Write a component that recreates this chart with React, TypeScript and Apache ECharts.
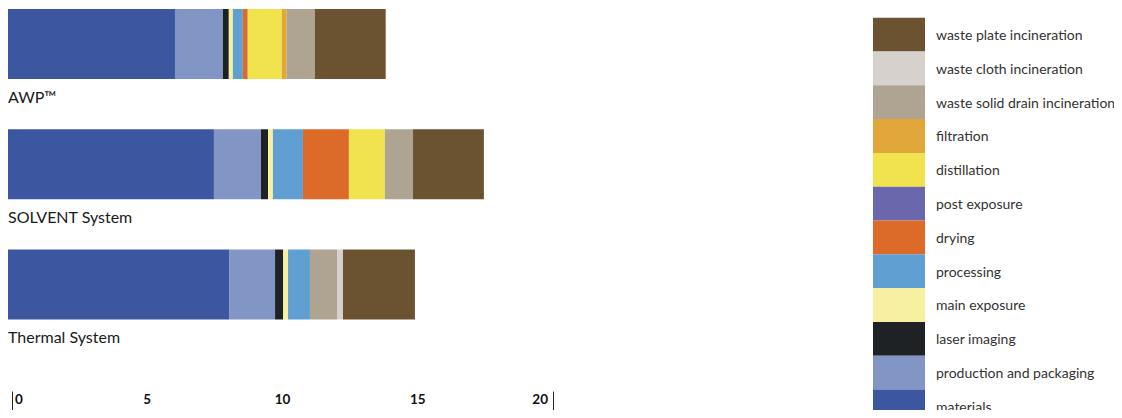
import React, { useEffect, useRef } from "react";
import * as echarts from "echarts";

const categories = ["AWP™", "SOLVENT System", "Thermal System"];

const seriesNames = [
  "materials",
  "production and packaging",
  "laser imaging",
  "main exposure",
  "processing",
  "drying",
  "post exposure",
  "distillation",
  "filtration",
  "waste solid drain incineration",
  "waste cloth incineration",
  "waste plate incineration",
];

const materials = [6.21, 7.65, 8.21];
const productionAndPackaging = [1.77, 1.74, 1.7];
const laserImaging = [0.22, 0.26, 0.3];
const mainExposure = [0.15, 0.18, 0.18];
const processing = [0.37, 1.11, 0.81];
const drying = [0.18, 1.7, 0];
const postExposure = [0, 0, 0];
const distillation = [1.26, 1.33, 0];
const filtration = [0.18, 0, 0];
const wasteSolidDrain = [1.04, 1.04, 1.0];
const wasteCloth = [0, 0, 0.22];
const wastePlate = [2.62, 2.62, 2.66];

const seriesValues = [
  materials,
  productionAndPackaging,
  laserImaging,
  mainExposure,
  processing,
  drying,
  postExposure,
  distillation,
  filtration,
  wasteSolidDrain,
  wasteCloth,
  wastePlate,
];

const colors = [
  "#3d56a0",
  "#8296c6",
  "#1f2224",
  "#f6f0a0",
  "#5f9fd2",
  "#dc6a29",
  "#6b67ad",
  "#f0e34e",
  "#e1a73a",
  "#afa491",
  "#d6d1cd",
  "#6b5331",
];

const axisTicks = [0, 5, 10, 15, 20];

export default function App() {
  const ref = useRef<HTMLDivElement>(null);
  useEffect(() => {
    if (!ref.current) return;
    const chart = echarts.init(ref.current, null, { renderer: "svg" });
    const option: any = {
      animation: false,
      grid: [
        { left: 7, width: 541, top: 44, height: 240.5 },
        { left: 12, width: 541, top: 392, height: 26 },
      ],
      legend: {
        orient: "vertical",
        left: 873,
        top: 17.7,
        height: 500,
        padding: 0,
        itemWidth: 52,
        itemHeight: 33.8,
        itemGap: 0,
        icon: "rect",
        selectedMode: false,
        data: seriesNames.slice().reverse(),
        textStyle: {
          fontFamily: "Lato",
          fontSize: 14,
          color: "#333",
          padding: [0, 0, 0, 6],
        },
      },
      xAxis: [
        { gridIndex: 0, type: "value", min: 0, max: 20, show: false },
        {
          gridIndex: 1,
          type: "value",
          min: axisTicks[0],
          max: axisTicks[axisTicks.length - 1],
          interval: 5,
          axisLine: { show: false },
          splitLine: { show: false },
          axisTick: { show: true, inside: true, length: 6, lineStyle: { color: "#222", width: 1 } },
          axisLabel: {
            inside: true,
            margin: 12,
            fontFamily: "Lato",
            fontWeight: "bold",
            fontSize: 13.5,
            color: "#111",
            formatter: (v: number) =>
              v === axisTicks[0] ? `{l|${v}}` : v === axisTicks[axisTicks.length - 1] ? `{r|${v}}` : String(v),
            rich: {
              l: { padding: [0, 0, 0, 3], fontFamily: "Lato", fontWeight: "bold", fontSize: 13.5, color: "#111" },
              r: { padding: [0, 5, 0, 0], fontFamily: "Lato", fontWeight: "bold", fontSize: 13.5, color: "#111" },
            },
            alignMinLabel: "left",
            alignMaxLabel: "right",
          },
        },
      ],
      yAxis: [
        {
          gridIndex: 0,
          type: "category",
          data: categories,
          inverse: true,
          boundaryGap: false,
          axisLine: { show: false },
          axisTick: { show: false },
          splitLine: { show: false },
          axisLabel: {
            inside: true,
            margin: 1,
            verticalAlign: "top",
            padding: [44, 0, 0, 0],
            fontFamily: "Lato",
            fontSize: 16,
            color: "#1a1a1a",
          },
        },
        {
          gridIndex: 1,
          type: "value",
          min: 0,
          max: 1,
          position: "left",
          axisLine: { show: true, lineStyle: { color: "#222", width: 1 } },
          axisTick: { show: false },
          axisLabel: { show: false },
          splitLine: { show: false },
        },
        {
          gridIndex: 1,
          type: "value",
          min: 0,
          max: 1,
          position: "right",
          axisLine: { show: true, lineStyle: { color: "#222", width: 1 } },
          axisTick: { show: false },
          axisLabel: { show: false },
          splitLine: { show: false },
        },
      ],
      series: seriesNames.map((name, i) => ({
        name,
        type: "bar",
        stack: "total",
        xAxisIndex: 0,
        yAxisIndex: 0,
        barWidth: 70,
        itemStyle: { color: colors[i] },
        data: seriesValues[i],
      })),
    };
    chart.setOption(option);
    return () => chart.dispose();
  }, []);
  return <div ref={ref} style={{ width: 1122, height: 418, margin: -8 }} />;
}
